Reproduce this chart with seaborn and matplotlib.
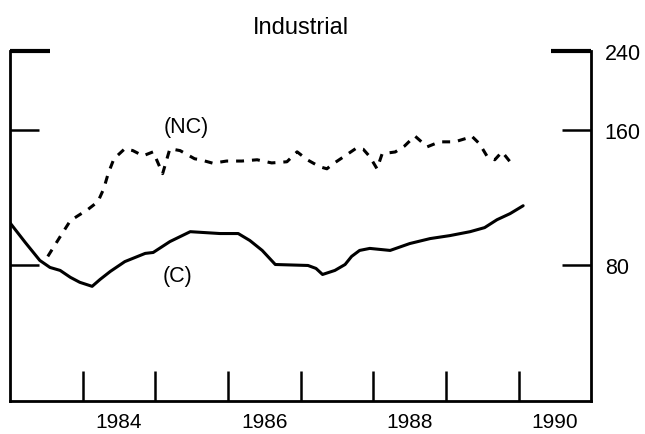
import matplotlib
matplotlib.use("Agg")
import seaborn as sns
import matplotlib.pyplot as plt
from matplotlib.ticker import FixedLocator, FixedFormatter, NullLocator, NullFormatter

# Industrial series (year, index value; log scale)
c_years = [1983.00, 1983.21, 1983.41, 1983.55, 1983.69, 1983.83, 1983.96, 1984.13,
           1984.24, 1984.38, 1984.58, 1984.86, 1984.97, 1985.20, 1985.48, 1985.89,
           1986.14, 1986.30, 1986.47, 1986.65, 1987.10, 1987.21, 1987.30, 1987.47,
           1987.61, 1987.70, 1987.81, 1987.95, 1988.23, 1988.50, 1988.78, 1989.05,
           1989.33, 1989.53, 1989.70, 1989.88, 1990.06]
c_values = [99.5, 90.0, 82.1, 79.2, 78.0, 75.3, 73.4, 71.9,
            74.5, 77.6, 81.6, 85.1, 85.5, 90.4, 95.1, 94.2,
            94.2, 90.9, 86.4, 80.4, 80.0, 78.8, 76.4, 78.0,
            80.4, 83.8, 86.4, 87.3, 86.4, 89.5, 91.8, 93.2,
            95.1, 97.1, 101.1, 104.3, 108.6]

nc_years = [1983.52, 1983.69, 1983.83, 1983.94, 1984.07, 1984.21, 1984.29, 1984.35,
            1984.43, 1984.58, 1984.69, 1984.83, 1984.97, 1985.10, 1985.20, 1985.34,
            1985.54, 1985.62, 1985.79, 1985.98, 1986.19, 1986.40, 1986.60, 1986.81,
            1986.95, 1987.09, 1987.26, 1987.36, 1987.44, 1987.61, 1987.77, 1987.86,
            1987.95, 1988.05, 1988.12, 1988.30, 1988.43, 1988.57, 1988.74, 1988.91,
            1989.12, 1989.30, 1989.35, 1989.46, 1989.56, 1989.67, 1989.77, 1989.88]
nc_values = [83.8, 92.7, 100.6, 103.3, 106.5, 110.9, 118.5, 127.9,
             138.1, 145.4, 144.0, 140.2, 143.1, 128.0, 145.4, 144.0,
             138.1, 137.4, 135.0, 136.5, 136.5, 137.4, 135.2, 136.0,
             143.1, 137.4, 132.6, 131.2, 134.4, 140.2, 146.0, 145.0,
             139.6, 131.2, 141.7, 143.0, 147.5, 155.2, 146.8, 150.6,
             150.6, 153.7, 155.2, 149.1, 140.2, 137.4, 143.1, 136.0]

year_ticks = [1984, 1985, 1986, 1987, 1988, 1989, 1990]
year_label_pos = [1984.5, 1986.5, 1988.5, 1990.5]
year_labels = ["1984", "1986", "1988", "1990"]
y_ticks = [80, 160, 240]

sns.set_style("ticks")
plt.rcParams["font.family"] = ["Liberation Sans", "DejaVu Sans"]
plt.rcParams.update({"text.color": "black", "xtick.color": "black",
                     "ytick.color": "black", "axes.edgecolor": "black"})

fig = plt.figure(figsize=(6.45, 4.35), dpi=100)
ax = fig.add_axes([0.0155, 0.076, 0.9015, 0.805])

sns.lineplot(x=c_years, y=c_values, ax=ax, color="black", linewidth=2.2)
sns.lineplot(x=nc_years, y=nc_values, ax=ax, color="black", linewidth=2.2,
             dashes=False)
ax.lines[-1].set_dashes((2.6, 2.6))

ax.set_yscale("log")
ax.set_ylim(40, 240)
ax.set_xlim(1983, 1991)

# x: ticks at year boundaries, labels in the middle of every other year
ax.xaxis.set_major_locator(FixedLocator(year_ticks))
ax.xaxis.set_major_formatter(NullFormatter())
ax.xaxis.set_minor_locator(FixedLocator(year_label_pos))
ax.xaxis.set_minor_formatter(FixedFormatter(year_labels))
ax.tick_params(axis="x", which="major", direction="in", length=21.5, width=1.8)
ax.tick_params(axis="x", which="minor", length=0, pad=8, labelsize=15)

# y: ticks on both sides, labels on the right only
ax.yaxis.set_major_locator(FixedLocator(y_ticks))
ax.yaxis.set_major_formatter(FixedFormatter([str(v) for v in y_ticks]))
ax.yaxis.set_minor_locator(NullLocator())
ax.tick_params(axis="y", which="major", direction="in", length=21, width=1.8,
               left=True, right=True, labelleft=False, labelright=True,
               pad=9.5, labelsize=15.5)
top_tick = ax.yaxis.get_major_ticks()[2]
for ln in (top_tick.tick1line, top_tick.tick2line):
    ln.set_markersize(28.5)
    ln.set_markeredgewidth(3)

for side in ["left", "right", "bottom"]:
    ax.spines[side].set_linewidth(2)
ax.spines["top"].set_visible(False)

ax.text(1985.42, 163, "(NC)", ha="center", va="center", fontsize=15.5)
ax.text(1985.30, 76, "(C)", ha="center", va="center", fontsize=15.5)

ax.set_xlabel("")
ax.set_ylabel("")
ax.set_title("Industrial", fontsize=17, pad=13)

fig.savefig("out.png", dpi=100)
